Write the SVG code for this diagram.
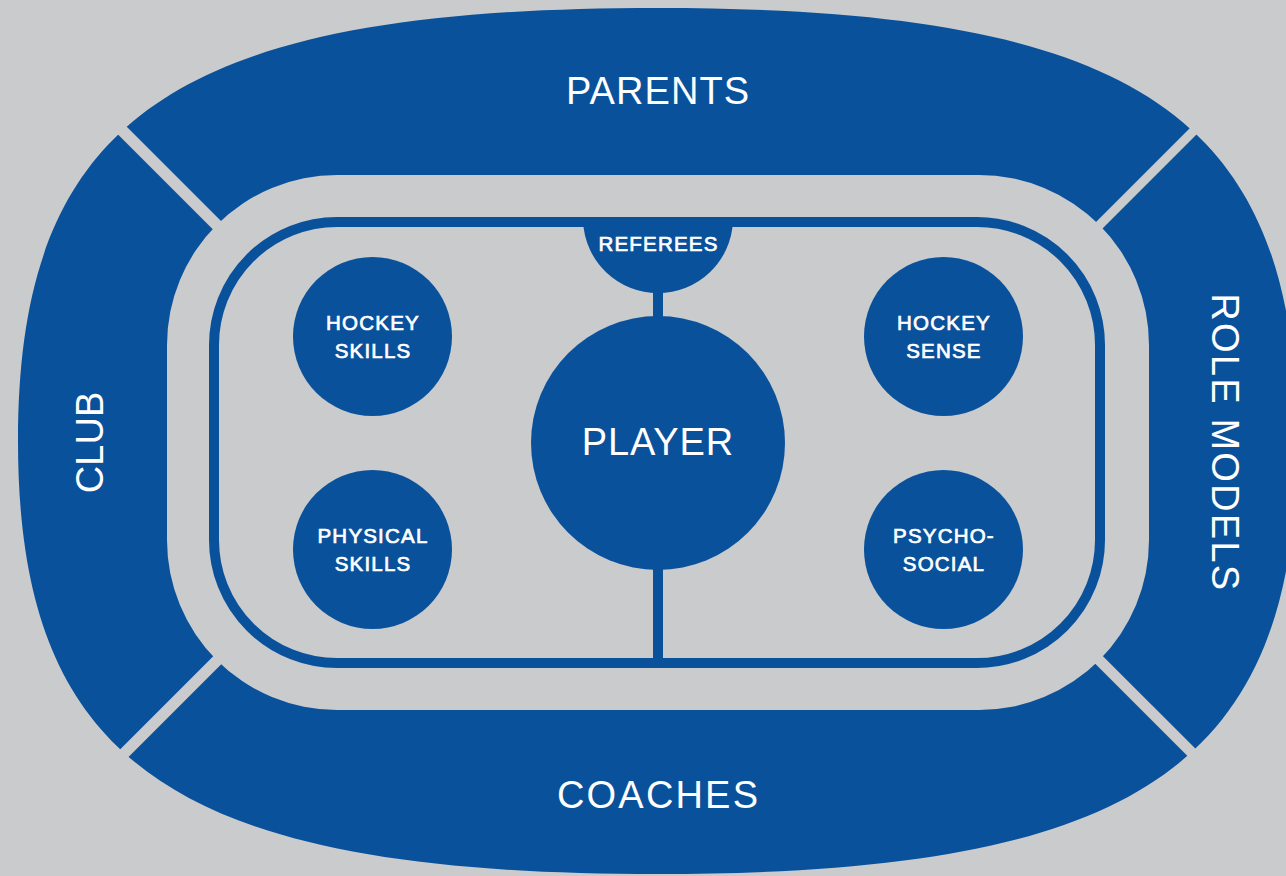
<svg xmlns="http://www.w3.org/2000/svg" xmlns:xlink="http://www.w3.org/1999/xlink" width="1286" height="876" viewBox="0 0 1286 876">
<style>
.bg{fill:#c9cbcd}
.blue{fill:#0a519c}
.big{font-family:"Liberation Sans",Arial,sans-serif;font-size:38px;fill:#ffffff;text-anchor:middle}
.small{font-family:"Liberation Sans",Arial,sans-serif;font-size:20.5px;font-weight:normal;letter-spacing:1.2px;fill:#ffffff;stroke:#ffffff;stroke-width:0.7px;text-anchor:middle}
.rink{fill:none;stroke:#0a519c;stroke-width:10}
.conn{stroke:#0a519c;stroke-width:10;fill:none}
</style>
<defs>
<path id="band" fill-rule="evenodd" d="M657.5,8 C1137.1,8 1297,116.25 1297,441 C1297,765.75 1137.1,874 657.5,874 C177.9,874 18,765.75 18,441 C18,116.25 177.9,8 657.5,8 Z M337,175 H979 A170,170 0 0 1 1149,345 V540 A170,170 0 0 1 979,710 H337 A170,170 0 0 1 167,540 V345 A170,170 0 0 1 337,175 Z"/>
<clipPath id="cp-parents"><polygon points="-20,-20 659,659 1338,-20"/></clipPath>
<clipPath id="cp-club"><polygon points="426.5,443 -100,-83.5 -100,969.5"/></clipPath>
<clipPath id="cp-coaches"><polygon points="658.5,227 -100,985.5 1400,968.5"/></clipPath>
<clipPath id="cp-role"><polygon points="888.9,442.1 1400,-69 1400,953.2"/></clipPath>
</defs>
<rect class="bg" x="0" y="0" width="1286" height="876"/>

<g id="parents">
<use xlink:href="#band" class="blue" clip-path="url(#cp-parents)"/>
<text class="big" x="657.5" y="104" textLength="183" lengthAdjust="spacing">PARENTS</text>
</g>
<g id="club">
<use xlink:href="#band" class="blue" clip-path="url(#cp-club)"/>
<text class="big" transform="translate(103.3,442.5) rotate(-90)" x="0" y="0" textLength="101.6" lengthAdjust="spacing">CLUB</text>
</g>
<g id="role-models">
<use xlink:href="#band" class="blue" clip-path="url(#cp-role)"/>
<text class="big" transform="translate(1211.7,441.7) rotate(90)" x="0" y="0" textLength="296.7" lengthAdjust="spacing">ROLE MODELS</text>
</g>
<g id="coaches">
<use xlink:href="#band" class="blue" clip-path="url(#cp-coaches)"/>
<text class="big" x="657.5" y="808" textLength="201" lengthAdjust="spacing">COACHES</text>
</g>

<g id="rink">
<rect class="rink" x="214" y="222" width="886" height="441" rx="123" ry="123"/>
</g>

<g id="connectors">
<line class="conn" x1="658" y1="285" x2="658" y2="663"/>
</g>

<g id="referees">
<path class="blue" d="M583.1,222 A75,75 0 0 0 732.9,222 Z"/>
<text class="small" x="658.5" y="250.5">REFEREES</text>
</g>

<g id="player">
<circle class="blue" cx="658" cy="443" r="127"/>
<text class="big" x="657.5" y="455" textLength="151.6" lengthAdjust="spacing">PLAYER</text>
</g>

<g id="hockey-skills">
<circle class="blue" cx="372.5" cy="336.5" r="79.5"/>
<text class="small" x="373" y="330">HOCKEY</text>
<text class="small" x="373" y="358">SKILLS</text>
</g>
<g id="physical-skills">
<circle class="blue" cx="372.5" cy="549.5" r="79.5"/>
<text class="small" x="373" y="543">PHYSICAL</text>
<text class="small" x="373" y="571">SKILLS</text>
</g>
<g id="hockey-sense">
<circle class="blue" cx="943.5" cy="336.5" r="79.5"/>
<text class="small" x="944" y="330">HOCKEY</text>
<text class="small" x="944" y="358">SENSE</text>
</g>
<g id="psycho-social">
<circle class="blue" cx="943.5" cy="549.5" r="79.5"/>
<text class="small" x="944" y="543">PSYCHO-</text>
<text class="small" x="944" y="571">SOCIAL</text>
</g>
</svg>
